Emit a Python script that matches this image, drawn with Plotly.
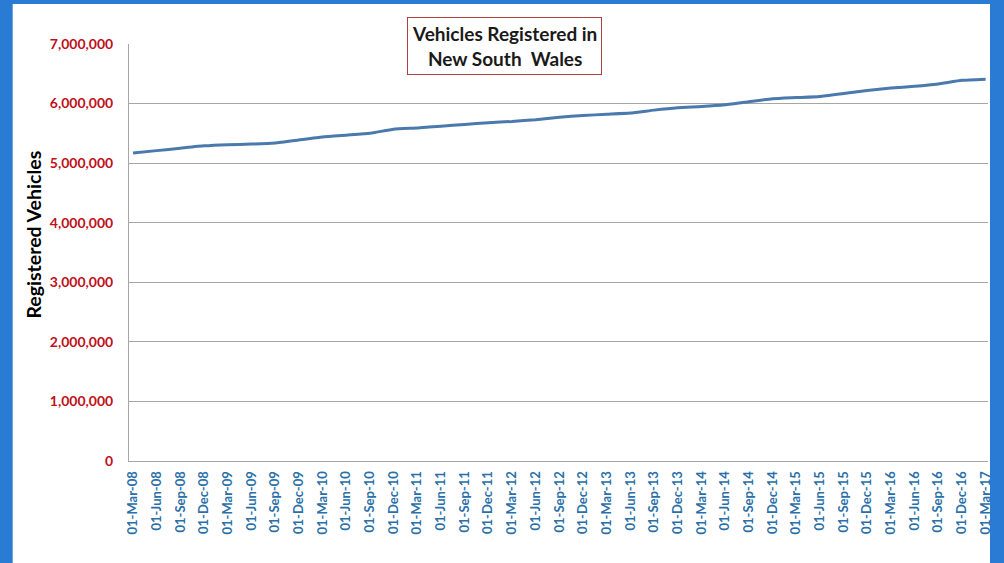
import plotly.graph_objects as go

dates = ["01-Mar-08", "01-Jun-08", "01-Sep-08", "01-Dec-08",
         "01-Mar-09", "01-Jun-09", "01-Sep-09", "01-Dec-09",
         "01-Mar-10", "01-Jun-10", "01-Sep-10", "01-Dec-10",
         "01-Mar-11", "01-Jun-11", "01-Sep-11", "01-Dec-11",
         "01-Mar-12", "01-Jun-12", "01-Sep-12", "01-Dec-12",
         "01-Mar-13", "01-Jun-13", "01-Sep-13", "01-Dec-13",
         "01-Mar-14", "01-Jun-14", "01-Sep-14", "01-Dec-14",
         "01-Mar-15", "01-Jun-15", "01-Sep-15", "01-Dec-15",
         "01-Mar-16", "01-Jun-16", "01-Sep-16", "01-Dec-16",
         "01-Mar-17"]

vehicles = [5170000, 5210000, 5250000, 5290000,
            5310000, 5320000, 5340000, 5390000,
            5440000, 5470000, 5500000, 5570000,
            5590000, 5620000, 5650000, 5680000,
            5700000, 5730000, 5770000, 5800000,
            5820000, 5840000, 5890000, 5930000,
            5950000, 5980000, 6030000, 6080000,
            6100000, 6120000, 6170000, 6220000,
            6260000, 6290000, 6330000, 6390000,
            6410000]

y_ticks = [0, 1000000, 2000000, 3000000, 4000000, 5000000, 6000000, 7000000]
y_labels = ["0", "1,000,000", "2,000,000", "3,000,000", "4,000,000",
            "5,000,000", "6,000,000", "7,000,000"]

idx = list(range(len(dates)))

fig = go.Figure()
fig.add_trace(go.Scatter(
    x=idx, y=vehicles, mode="lines",
    line=dict(color="#4a79ad", width=3, shape="spline", smoothing=0.4),
    hoverinfo="skip", showlegend=False,
))

FONT = "Lato"
PW, PH = 864, 417  # plot area size in px

fig.update_layout(
    width=1004, height=563,
    paper_bgcolor="#2a7bd3",
    plot_bgcolor="white",
    margin=dict(l=129, r=11, t=44, b=102),
    font=dict(family=FONT),
    shapes=[dict(type="rect", xref="paper", yref="paper",
                 x0=(12 - 129) / PW, x1=(995 - 129) / PW,
                 y0=-110 / PH, y1=(461 - 4) / PH,
                 fillcolor="white", line=dict(width=0), layer="below")],
    xaxis=dict(
        range=[-0.17, 36.1],
        tickvals=idx, ticktext=dates, tickangle=-90,
        tickfont=dict(family=FONT, size=13, color="#2a6fa8", weight="bold"),
        showgrid=False, zeroline=False,
        showline=True, linecolor="#a6a6a6", linewidth=1,
        ticks="", ticklabelstandoff=4,
    ),
    yaxis=dict(
        range=[0, 7000000],
        tickvals=y_ticks, ticktext=y_labels,
        tickfont=dict(family=FONT, size=14, color="#c0101a", weight="bold"),
        showgrid=True, gridcolor="#a6a6a6", gridwidth=1,
        zeroline=False, showline=True, linecolor="#a6a6a6", linewidth=1,
        ticks="", ticklabelstandoff=12,
    ),
    annotations=[
        dict(
            text="Vehicles Registered in<br>New South  Wales",
            xref="paper", yref="paper", x=(507 - 129) / PW, y=(461 - 46) / PH,
            xanchor="center", yanchor="middle", showarrow=False,
            font=dict(family=FONT, size=19, color="#1a1a1a", weight="bold"),
            bgcolor="white", bordercolor="#b04040", borderwidth=1, borderpad=4,
            align="center",
        ),
        dict(
            text="Registered Vehicles",
            xref="paper", yref="paper", x=(32 - 129) / PW, y=(461 - 235) / PH,
            xanchor="center", yanchor="middle", showarrow=False, textangle=-90,
            font=dict(family=FONT, size=19.5, color="black", weight="bold"),
        ),
    ],
)

fig.write_html("out.html", config={"displayModeBar": False},
               post_script="document.body.style.margin='0';document.body.style.padding='0';")
